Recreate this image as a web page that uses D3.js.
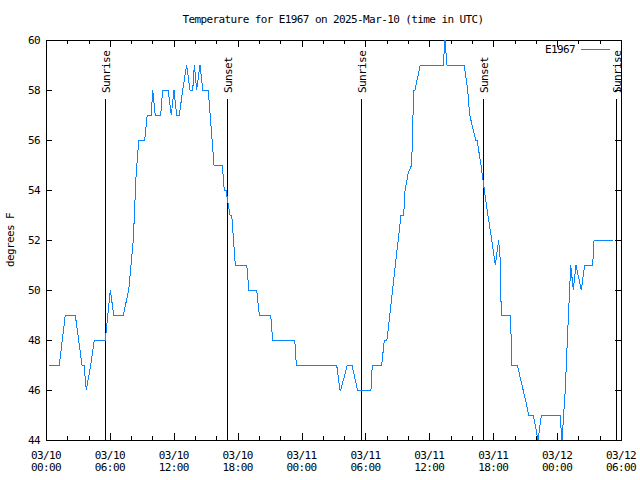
<!DOCTYPE html>
<html><head><meta charset="utf-8">
<script src="https://cdn.jsdelivr.net/npm/d3@7"></script>
<style>
body{margin:0;background:#fff}
text{font-family:"DejaVu Sans Mono","Liberation Mono",monospace;font-size:11px;letter-spacing:-0.6px;fill:#000}
</style>
</head><body>
<svg id="chart" width="640" height="480"></svg>
<script>
// hours since 2025-03-10 00:00 UTC
const hours = [0.28,1.25,1.81,2.75,3.38,3.57,3.78,4.20,4.54,5.57,
  6.04,6.36,7.26,7.77,8.20,8.45,8.71,9.27,9.51,9.89,
  10.02,10.26,10.77,10.96,11.46,11.77,12.02,12.27,12.52,12.84,
  13.21,13.52,13.78,13.93,14.15,14.46,14.72,15.24,15.78,16.56,
  16.74,16.90,17.28,17.44,17.78,18.85,19.06,19.79,20.03,21.10,
  21.29,23.36,23.51,27.30,27.61,27.68,28.30,28.74,29.25,30.52,
  30.64,31.53,31.77,32.02,33.34,33.59,33.72,34.03,34.34,34.53,
  34.65,35.15,37.31,37.47,37.66,39.28,39.60,39.79,40.36,40.48,
  40.85,41.39,41.86,42.20,42.51,42.64,42.76,43.58,43.70,43.76,
  44.26,45.14,45.33,45.76,46.21,46.52,48.27,48.46,48.77,48.96,
  49.28,49.52,49.77,50.27,50.59,51.34,51.47,53.28];
const temps = [47,47,49,49,47,47,46,47,48,48,
  50,49,49,50,52,54.5,56,56,57,57,
  58,57,57,58,58,57,58,57,57,58,
  59,58,58,59,58,59,58,58,55,55,
  54,54,53,53,51,51,50,50,49,49,
  48,48,47,47,46,46,47,47,46,46,
  47,47,48,48,53,53,54,54.7,55,58,
  58,59,59,60,59,59,58,57,56,56,
  55,53.3,52,51,52,51.3,49,49,48,47,
  47,45.4,45,45,44,45,45,44,46,48,
  51,50,51,50,51,51,52,52];
const sunHours = [5.57,17.03,29.55,41.06,53.53];
const sunLabels = ["Sunrise","Sunset","Sunrise","Sunset","Sunrise"];
const yTicks = [44,46,48,50,52,54,56,58,60];
const seriesName = "E1967";
const title = "Temperature for E1967 on 2025-Mar-10 (time in UTC)";
const yLabel = "degrees F";

const t0 = Date.UTC(2025,2,10,0,0);
const toDate = h => new Date(t0 + h*3600e3);
const data = hours.map((h,i)=>({t:toDate(h), v:temps[i]}));

const L=46, R=621, T=40, B=440;
const svg = d3.select("#chart");
const x = d3.scaleUtc().domain([toDate(0), toDate(54)]).range([L,R]);
const y = d3.scaleLinear().domain([44,60]).range([B,T]);

const g = svg.append("g").attr("shape-rendering","crispEdges");

// x ticks
const minorT = d3.utcHour.every(2).range(toDate(0), toDate(54.01));
const majorT = d3.utcHour.every(6).range(toDate(0), toDate(54.01));
minorT.forEach(d=>{
  const xx = Math.round(x(d))+0.5;
  const major = d.getUTCHours()%6===0;
  const len = major?7:4;
  g.append("line").attr("x1",xx).attr("x2",xx).attr("y1",B).attr("y2",B-len).attr("stroke","#000");
  g.append("line").attr("x1",xx).attr("x2",xx).attr("y1",T).attr("y2",T+len).attr("stroke","#000");
});
const fmtD = d3.utcFormat("%m/%d"), fmtH = d3.utcFormat("%H:%M");
majorT.forEach(d=>{
  const xx = x(d);
  svg.append("text").attr("x",xx).attr("y",458.5).attr("text-anchor","middle").text(fmtD(d));
  svg.append("text").attr("x",xx).attr("y",471).attr("text-anchor","middle").text(fmtH(d));
});
// y ticks
yTicks.forEach(v=>{
  const yy = Math.round(y(v))+0.5;
  g.append("line").attr("x1",L).attr("x2",L+6).attr("y1",yy).attr("y2",yy).attr("stroke","#000");
  g.append("line").attr("x1",R).attr("x2",R-6).attr("y1",yy).attr("y2",yy).attr("stroke","#000");
  svg.append("text").attr("x",40).attr("y",y(v)).attr("dy","0.35em").attr("text-anchor","end").text(v);
});

// sun lines
sunHours.forEach((h,i)=>{
  const xx = Math.round(x(toDate(h)))+0.5;
  g.append("line").attr("x1",xx).attr("x2",xx).attr("y1",B).attr("y2",99).attr("stroke","#000");
  svg.append("text").attr("transform",`translate(${xx+4.5},93) rotate(-90)`).attr("text-anchor","start").text(sunLabels[i]);
});

// data line
svg.append("defs").append("clipPath").attr("id","clip").append("rect").attr("x",L).attr("y",T).attr("width",R-L).attr("height",B-T);
const line = d3.line().x(d=>x(d.t)).y(d=>y(d.v));
svg.append("path").datum(data).attr("d",line).attr("fill","none").attr("stroke","#0a84ff").attr("stroke-width",1)
  .attr("clip-path","url(#clip)").attr("shape-rendering","crispEdges");

// border
g.append("rect").attr("x",L+0.5).attr("y",T+0.5).attr("width",R-L).attr("height",B-T).attr("fill","none").attr("stroke","#000");

// legend
svg.append("text").attr("x",575).attr("y",53).attr("text-anchor","end").text(seriesName);
g.append("line").attr("x1",581).attr("x2",610).attr("y1",49.5).attr("y2",49.5).attr("stroke","#0a84ff");

// title & y label
svg.append("text").attr("x",333).attr("y",23).attr("text-anchor","middle").text(title);
svg.append("text").attr("transform","translate(14,240) rotate(-90)").attr("text-anchor","middle").text(yLabel);
</script>
</body></html>
